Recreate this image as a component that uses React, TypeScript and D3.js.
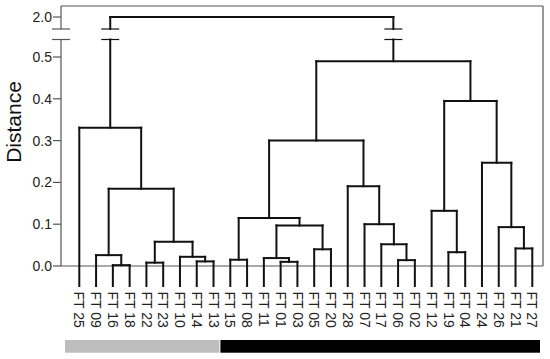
import * as d3 from "d3";
import React from "react";

const leaves = [
  "FT 25", "FT 09", "FT 16", "FT 18", "FT 22", "FT 23", "FT 10", "FT 14", "FT 13",
  "FT 15", "FT 08", "FT 11", "FT 01", "FT 03", "FT 05", "FT 20", "FT 28", "FT 07",
  "FT 17", "FT 06", "FT 02", "FT 12", "FT 19", "FT 04", "FT 24", "FT 26", "FT 21", "FT 27",
];

// hclust-style merges: children are leaf names or "#i" (earlier merge), then height
const mergeLeft = [
  "FT 16", "FT 09", "FT 22", "FT 14", "FT 10", "#2", "#1", "FT 25",
  "FT 15", "FT 01", "FT 11", "FT 05", "#10", "#8", "FT 06", "FT 17", "FT 07", "FT 28", "#13",
  "FT 19", "FT 12", "FT 21", "FT 26", "FT 24", "#20", "#18", "#7",
];
const mergeRight = [
  "FT 18", "#0", "FT 23", "FT 13", "#3", "#4", "#5", "#6",
  "FT 08", "FT 03", "#9", "FT 20", "#11", "#12", "FT 02", "#14", "#15", "#16", "#17",
  "FT 04", "#19", "FT 27", "#21", "#22", "#23", "#24", "#25",
];
const mergeHeight = [
  0.002, 0.026, 0.008, 0.011, 0.022, 0.058, 0.185, 0.331,
  0.015, 0.010, 0.019, 0.040, 0.097, 0.115, 0.014, 0.052, 0.100, 0.191, 0.300,
  0.033, 0.132, 0.042, 0.093, 0.247, 0.395, 0.490, 2.0,
];

const tickValues = [0, 0.1, 0.2, 0.3, 0.4, 0.5, 2.0];
const groupSizes = [9, 19];
const groupColors = ["#bdbdbd", "#000000"];

const width = 550;
const height = 359;
const plot = { left: 61, right: 543, top: 6, bottom: 266 };
const leafBottom = 286;

interface Seg { x1: number; y1: number; x2: number; y2: number; }

const App: React.FC = () => {
  const x = d3.scalePoint<string>().domain(leaves).range([79.3, 532.3]);
  const y = d3.scaleLinear().domain([0, 0.5, 2.0]).range([plot.bottom, 57, 17]);

  const breakLow = y(0.5) - 17.5;
  const breakHigh = breakLow - 10.5;

  const nodes: { x: number; h: number }[] = [];
  const segs: Seg[] = [];
  const breakMarks: number[] = [];

  const getNode = (ref: string) =>
    ref.startsWith("#") ? { ...nodes[+ref.slice(1)], leaf: false } : { x: x(ref) as number, h: 0, leaf: true };

  mergeHeight.forEach((h, i) => {
    const a = getNode(mergeLeft[i]);
    const b = getNode(mergeRight[i]);
    const yt = y(h);
    [a, b].forEach((c) => {
      const yb = c.leaf ? leafBottom : y(c.h);
      if (yt < breakHigh && yb > breakLow) {
        segs.push({ x1: c.x, y1: yb, x2: c.x, y2: breakLow });
        segs.push({ x1: c.x, y1: breakHigh, x2: c.x, y2: yt });
        breakMarks.push(c.x);
      } else {
        segs.push({ x1: c.x, y1: yb, x2: c.x, y2: yt });
      }
    });
    segs.push({ x1: a.x, y1: yt, x2: b.x, y2: yt });
    nodes.push({ x: (a.x + b.x) / 2, h });
  });

  // group bars under labels
  const bars: { x0: number; x1: number; color: string }[] = [];
  let start = 0;
  groupSizes.forEach((n, gi) => {
    const first = leaves[start];
    const last = leaves[start + n - 1];
    const prev = start > 0 ? (x(leaves[start - 1]) as number) : null;
    const next = start + n < leaves.length ? (x(leaves[start + n]) as number) : null;
    const x0 = prev === null ? plot.left + 4 : (prev + (x(first) as number)) / 2 - 1.5;
    const x1 = next === null ? plot.right - 3 : ((x(last) as number) + next) / 2 - 2.5;
    bars.push({ x0, x1, color: groupColors[gi] });
    start += n;
  });

  const font = "Arial, 'Liberation Sans', sans-serif";
  const frame = "#555";

  return (
    <svg width={width} height={height} style={{ position: "absolute", left: 0, top: 0 }}>
      <rect width={width} height={height} fill="#fff" />
      {/* frame */}
      <line x1={plot.left} y1={plot.top} x2={plot.right} y2={plot.top} stroke={frame} strokeWidth={1.2} />
      <line x1={plot.right} y1={plot.top} x2={plot.right} y2={plot.bottom} stroke={frame} strokeWidth={1.2} />
      <line x1={plot.left} y1={plot.bottom} x2={plot.right} y2={plot.bottom} stroke={frame} strokeWidth={1.2} />
      <line x1={plot.left} y1={plot.top} x2={plot.left} y2={breakHigh} stroke={frame} strokeWidth={1.2} />
      <line x1={plot.left} y1={breakLow} x2={plot.left} y2={plot.bottom} stroke={frame} strokeWidth={1.2} />
      {[breakHigh, breakLow].map((by, i) => (
        <line key={i} x1={plot.left - 9} x2={plot.left + 9} y1={by} y2={by} stroke={frame} strokeWidth={1.2} />
      ))}
      {/* y ticks */}
      {tickValues.map((t) => (
        <g key={t} transform={`translate(0,${y(t)})`}>
          <line x1={plot.left - 8} x2={plot.left} stroke={frame} strokeWidth={1.2} />
          <text x={plot.left - 9} dy="0.36em" textAnchor="end" fontFamily={font} fontSize={14} fill="#222">
            {d3.format(".1f")(t)}
          </text>
        </g>
      ))}
      <text
        transform={`translate(21,122) rotate(-90)`}
        textAnchor="middle"
        fontFamily={font}
        fontSize={21}
        fill="#111"
      >
        Distance
      </text>
      {/* tree */}
      <g stroke="#111" strokeWidth={2} strokeLinecap="square" fill="none">
        {segs.map((s, i) => (
          <line key={i} x1={s.x1} y1={s.y1} x2={s.x2} y2={s.y2} />
        ))}
        {breakMarks.map((bx, i) =>
          [breakHigh, breakLow].map((by, j) => (
            <line key={`${i}-${j}`} x1={bx - 9} x2={bx + 9} y1={by} y2={by} strokeWidth={1.2} strokeLinecap="butt" />
          ))
        )}
      </g>
      {/* leaf labels */}
      {leaves.map((l) => (
        <text
          key={l}
          transform={`translate(${x(l)},291.5) rotate(90)`}
          dy="0.35em"
          fontFamily={font}
          fontSize={14}
          fill="#222"
        >
          {l}
        </text>
      ))}
      {bars.map((b, i) => (
        <rect key={i} x={b.x0} y={340} width={b.x1 - b.x0} height={12.7} fill={b.color} />
      ))}
    </svg>
  );
};

export default App;
